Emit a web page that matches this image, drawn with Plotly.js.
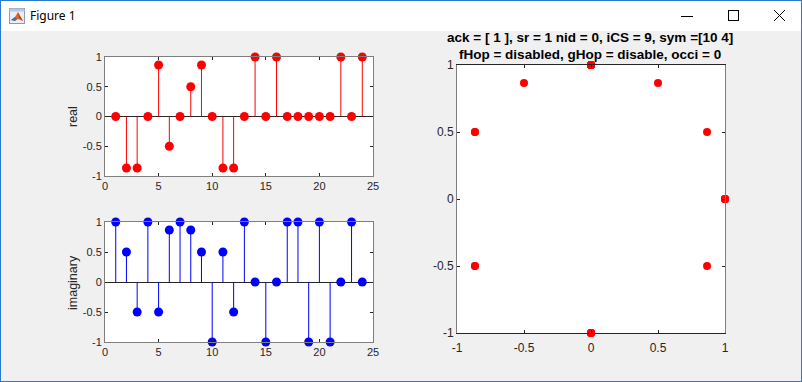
<!DOCTYPE html>
<html>
<head>
<meta charset="utf-8">
<script src="https://cdn.plot.ly/plotly-3.0.1.min.js"></script>
<style>
  html, body { margin:0; padding:0; background:#f0f0f0; }
  #win { position:relative; width:802px; height:382px; overflow:hidden; background:#f0f0f0; }
  #plot { position:absolute; left:0; top:0; width:802px; height:382px; }
  #titlebar { position:absolute; left:0; top:0; width:802px; height:31px; background:#ffffff; z-index:5; }
  #titletext { position:absolute; left:30px; top:7px; font-family:"Noto Sans","DejaVu Sans",sans-serif; font-size:12px; color:#000; }
  #border { position:absolute; left:0; top:0; width:800px; height:380px; border:1px solid #2a7ad2; z-index:6; pointer-events:none; }
  #icon { position:absolute; left:9px; top:8px; }
  #ctrls { position:absolute; left:660px; top:0; }
</style>
</head>
<body>
<div id="win">
  <div id="plot"></div>
  <div id="titlebar">
    <svg id="icon" width="16" height="16" viewBox="0 0 16 16">
      <rect x="0.5" y="0.5" width="15" height="15" fill="#e8eef5" stroke="#8a9ab0"/>
      <rect x="0.5" y="0.5" width="15" height="3" fill="#b8c8dc"/>
      <polygon points="2,12 6,9 9,4 11,8 14,13 9,11 6,13" fill="#e8631c"/>
      <polygon points="2,12 6,9 8,11 6,13" fill="#3a76c0"/>
      <polygon points="9,4 11,8 14,13 10,10" fill="#c0401a"/>
    </svg>
    <div id="titletext">Figure 1</div>
    <svg id="ctrls" width="142" height="31">
      <line x1="21" y1="16.5" x2="33" y2="16.5" stroke="#000" stroke-width="1"/>
      <rect x="68.5" y="10.5" width="10" height="10" fill="none" stroke="#000" stroke-width="1"/>
      <line x1="114" y1="10" x2="125" y2="21" stroke="#000" stroke-width="1"/>
      <line x1="125" y1="10" x2="114" y2="21" stroke="#000" stroke-width="1"/>
    </svg>
  </div>
  <div id="border"></div>
</div>
<script>
// ---- data ----
var sampleIndex = [1,2,3,4,5,6,7,8,9,10,11,12,13,14,15,16,17,18,19,20,21,22,23,24];
var realPart = [0,-0.866,-0.866,0,0.866,-0.5,0,0.5,0.866,0,-0.866,-0.866,0,1,0,1,0,0,0,0,0,1,0,1];
var imagPart = [1,0.5,-0.5,1,-0.5,0.866,1,0.866,0.5,-1,0.5,-0.5,1,0,-1,0,1,1,-1,1,-1,0,1,0];
var stemTickVals = [0,5,10,15,20,25];
var unitTickVals = [-1,-0.5,0,0.5,1];
var unitTickText = ["-1","-0.5","0","0.5","1"];
var titleLine1 = "ack = [ 1 ], sr = 1 nid = 0, iCS = 9, sym =[10 4]";
var titleLine2 = "fHop = disabled, gHop = disable, occi = 0";

function stemLines(xs, ys){
  var lx = [], ly = [];
  for (var i = 0; i < xs.length; i++){ lx.push(xs[i], xs[i], null); ly.push(0, ys[i], null); }
  return {x: lx, y: ly};
}
var rs = stemLines(sampleIndex, realPart);
var is = stemLines(sampleIndex, imagPart);

var W = 802, H = 382;
function fx(p){ return p / W; }
function fy(p){ return 1 - p / H; }

var fam = '"Liberation Sans", Arial, Helvetica, sans-serif';
var font = {family: fam, size: 11, color: '#262626'};

var traces = [
  {x: rs.x, y: rs.y, xaxis:'x', yaxis:'y', mode:'lines', line:{color:'#ff0000', width:1}, hoverinfo:'skip', showlegend:false},
  {x: sampleIndex, y: realPart, xaxis:'x', yaxis:'y', mode:'markers', marker:{color:'#ff0000', size:9}, cliponaxis:false, showlegend:false},
  {x: is.x, y: is.y, xaxis:'x2', yaxis:'y2', mode:'lines', line:{color:'#0000ff', width:1}, hoverinfo:'skip', showlegend:false},
  {x: sampleIndex, y: imagPart, xaxis:'x2', yaxis:'y2', mode:'markers', marker:{color:'#0000ff', size:9}, cliponaxis:false, showlegend:false},
  {x: realPart, y: imagPart, xaxis:'x3', yaxis:'y3', mode:'markers', marker:{color:'#ff0000', size:8}, cliponaxis:false, showlegend:false}
];

function stemX(dom, anchor){
  return {domain: dom, anchor: anchor, range:[0,25], tickvals: stemTickVals, ticks:'inside', ticklen:3, tickcolor:'#262626',
    showline:true, mirror:'ticks', linecolor:'#7f7f7f', linewidth:1, showgrid:false, zeroline:false, tickfont: font, fixedrange:true};
}
function stemY(dom, anchor){
  return {domain: dom, anchor: anchor, range:[-1,1], tickvals: unitTickVals, ticktext: unitTickText, ticks:'inside', ticklen:3, tickcolor:'#262626',
    showline:true, mirror:'ticks', linecolor:'#7f7f7f', linewidth:1, showgrid:false, zeroline:true, zerolinecolor:'#262626', zerolinewidth:1, tickfont: font, fixedrange:true};
}

var bigTick = {family: fam, size: 12, color: '#262626'};

var layout = {
  width: W, height: H,
  margin: {l:0, r:0, t:0, b:0},
  paper_bgcolor: '#f0f0f0', plot_bgcolor: '#ffffff',
  font: font,
  showlegend: false,
  xaxis: stemX([fx(105), fx(373)], 'y'),
  yaxis: stemY([fy(176), fy(57)], 'x'),
  xaxis2: stemX([fx(105), fx(373)], 'y2'),
  yaxis2: stemY([fy(342), fy(222)], 'x2'),
  xaxis3: {domain:[fx(457), fx(725)], anchor:'y3', range:[-1,1], tickvals: unitTickVals, ticktext: unitTickText, ticks:'inside', ticklen:3, tickcolor:'#262626',
    showline:true, mirror:'ticks', linecolor:'#262626', linewidth:1, showgrid:false, zeroline:false, tickfont: bigTick, ticklabelstandoff: 4, fixedrange:true},
  yaxis3: {domain:[fy(333), fy(65)], anchor:'x3', range:[-1,1], tickvals: unitTickVals, ticktext: unitTickText, ticks:'inside', ticklen:3, tickcolor:'#262626',
    showline:true, mirror:'ticks', linecolor:'#7f7f7f', linewidth:1, showgrid:false, zeroline:false, tickfont: bigTick, fixedrange:true},
  annotations: [
    {text:'real', xref:'paper', yref:'paper', x:fx(73), y:fy(117), xanchor:'center', yanchor:'middle', textangle:-90, showarrow:false, font:{family:fam, size:12.5, color:'#262626'}},
    {text:'imaginary', xref:'paper', yref:'paper', x:fx(73), y:fy(283), xanchor:'center', yanchor:'middle', textangle:-90, showarrow:false, font:{family:fam, size:12.5, color:'#262626'}},
    {text:'<b>'+titleLine1+'</b>', xref:'paper', yref:'paper', x:fx(590), y:fy(37.5), xanchor:'center', yanchor:'middle', showarrow:false, font:{family:fam, size:13.5, color:'#000000'}},
    {text:'<b>'+titleLine2+'</b>', xref:'paper', yref:'paper', x:fx(590), y:fy(54.5), xanchor:'center', yanchor:'middle', showarrow:false, font:{family:fam, size:13.5, color:'#000000'}}
  ]
};

Plotly.newPlot('plot', traces, layout, {displayModeBar:false, staticPlot:true});
</script>
</body>
</html>
